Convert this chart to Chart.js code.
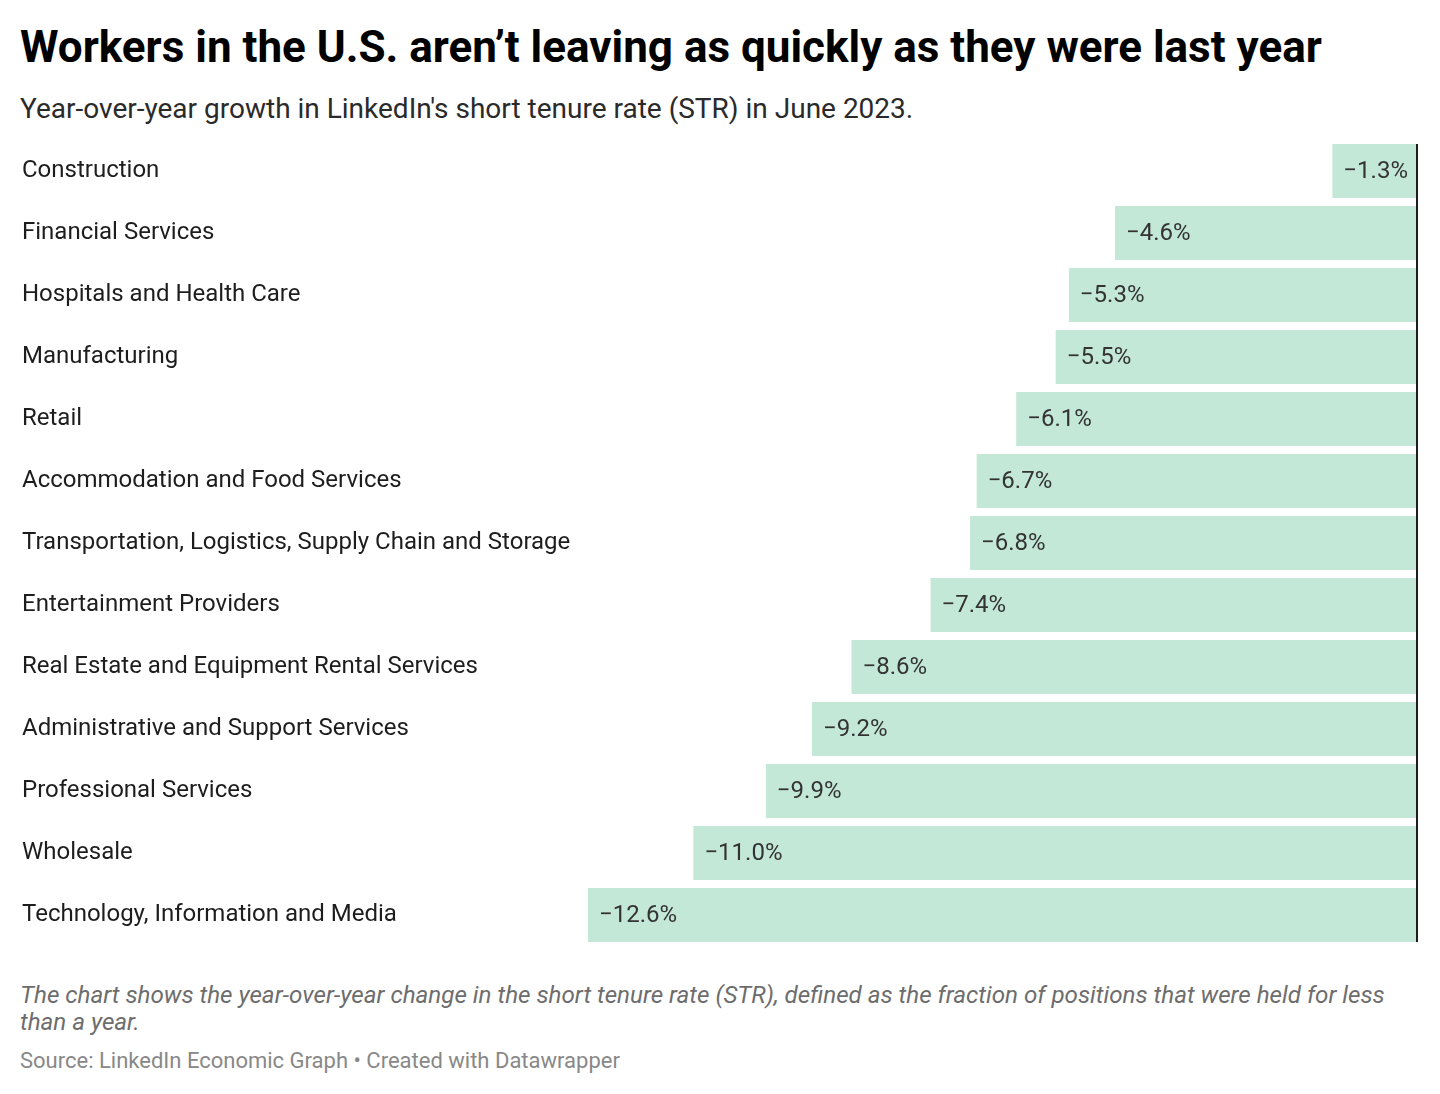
<!DOCTYPE html>
<html>
<head>
<meta charset="utf-8">
<script src="https://cdn.jsdelivr.net/npm/chart.js@4"></script>
<style>
  html, body { margin: 0; padding: 0; background: #fff; }
  body { width: 1440px; height: 1094px; position: relative; font-family: Roboto, sans-serif; overflow: hidden; }
  .title { position: absolute; left: 20px; top: 25px; font-size: 44px; line-height: 44px; font-weight: 700; color: #000; white-space: nowrap; }
  .subtitle { position: absolute; left: 20px; top: 95px; font-size: 28px; line-height: 28px; color: #2a2a2a; white-space: nowrap; }
  .box { position: absolute; left: 0; top: 140px; width: 1440px; height: 806px; }
  .notes { position: absolute; left: 20px; top: 982px; width: 1400px; font-size: 24.2px; line-height: 27px; font-style: italic; color: #6d6d6d; }
  .source { position: absolute; left: 20px; top: 1050px; font-size: 22px; line-height: 22px; color: #888; white-space: nowrap; }
</style>
</head>
<body>
<div class="title">Workers in the U.S. aren’t leaving as quickly as they were last year</div>
<div class="subtitle">Year-over-year growth in LinkedIn's short tenure rate (STR) in June 2023.</div>
<div class="box"><canvas id="chart"></canvas></div>
<div class="notes">The chart shows the year-over-year change in the short tenure rate (STR), defined as the fraction of positions that were held for less than a year.</div>
<div class="source">Source: LinkedIn Economic Graph • Created with Datawrapper</div>

<script>
'use strict';

// ---------- data ----------
const industries = [
  'Construction',
  'Financial Services',
  'Hospitals and Health Care',
  'Manufacturing',
  'Retail',
  'Accommodation and Food Services',
  'Transportation, Logistics, Supply Chain and Storage',
  'Entertainment Providers',
  'Real Estate and Equipment Rental Services',
  'Administrative and Support Services',
  'Professional Services',
  'Wholesale',
  'Technology, Information and Media',
];
const strGrowth = [-1.3, -4.6, -5.3, -5.5, -6.1, -6.7, -6.8, -7.4, -8.6, -9.2, -9.9, -11.0, -12.6];

// ---------- helpers ----------
const fmtPct = (v) => (v < 0 ? '\u2212' : '') + Math.abs(v).toFixed(1) + '%';

const valueLabels = {
  id: 'valueLabels',
  afterDatasetsDraw(chart) {
    const { ctx } = chart;
    const meta = chart.getDatasetMeta(0);
    ctx.save();
    ctx.font = '24px Roboto';
    ctx.fillStyle = '#333';
    ctx.textAlign = 'left';
    ctx.textBaseline = 'middle';
    meta.data.forEach((bar, i) => {
      ctx.fillText(fmtPct(strGrowth[i]), bar.x + 11, bar.y + 1);
    });
    ctx.restore();
  },
};

const zeroLine = {
  id: 'zeroLine',
  afterDatasetsDraw(chart) {
    const { ctx, chartArea } = chart;
    const x = chart.scales.x.getPixelForValue(0) - 1;
    ctx.save();
    ctx.strokeStyle = '#1d1d1d';
    ctx.lineWidth = 2;
    ctx.beginPath();
    ctx.moveTo(x, chartArea.top + 4);
    ctx.lineTo(x, chartArea.bottom - 4);
    ctx.stroke();
    ctx.restore();
  },
};

new Chart(document.getElementById('chart').getContext('2d'), {
  type: 'bar',
  data: {
    labels: industries,
    datasets: [{
      data: strGrowth,
      backgroundColor: '#c4e8d8',
      borderWidth: 0,
      categoryPercentage: 1,
      barPercentage: 0.87,
    }],
  },
  options: {
    indexAxis: 'y',
    responsive: true,
    maintainAspectRatio: false,
    animation: false,
    layout: { padding: { left: 22, right: 22, top: 0, bottom: 0 } },
    plugins: { legend: { display: false }, tooltip: { enabled: false } },
    scales: {
      x: { display: false, min: -12.6, max: 0 },
      y: {
        grid: { display: false },
        border: { display: false },
        ticks: { crossAlign: 'far', color: '#1d1d1d', padding: 0, font: { family: 'Roboto', size: 24 } },
        afterFit(axis) {
          axis.width = 566;
          axis.paddingTop = 0;
          axis.paddingBottom = 0;
        },
      },
    },
  },
  plugins: [valueLabels, zeroLine],
});
</script>
</body>
</html>
